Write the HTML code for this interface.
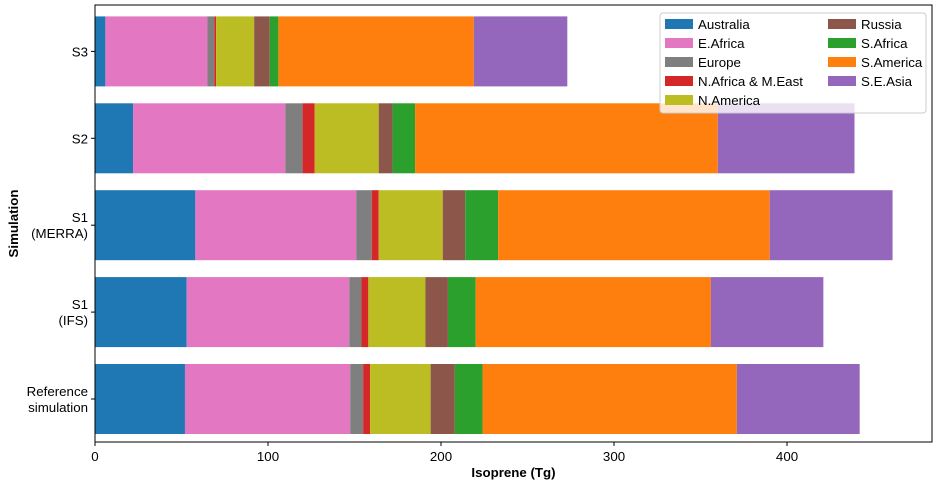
<!DOCTYPE html>
<html><head><meta charset="utf-8"><style>
body{margin:0;background:#fff;}
svg{display:block;font-family:"Liberation Sans",sans-serif;}
</style></head><body>
<svg id="chart" width="941" height="488"></svg>
<script>
const categories=["Reference\nsimulation","S1\n(IFS)","S1\n(MERRA)","S2","S3"];
const regions=["Australia","E.Africa","Europe","N.Africa & M.East","N.America","Russia","S.Africa","S.America","S.E.Asia"];
const colors=["#1f77b4","#e377c2","#7f7f7f","#d62728","#bcbd22","#8c564b","#2ca02c","#ff7f0e","#9467bd"];
const valsRef=[52,95.5,7.5,4,35,14,16,147,71];
const valsIFS=[53,94,7,4,33,13,16,136,65];
const valsMERRA=[58,93,9,4,37,13,19,157,71];
const valsS2=[22,88,10,7,37,8,13,175,79];
const valsS3=[6,59,4,1,22,9,5,113,54];
const series=[valsRef,valsIFS,valsMERRA,valsS2,valsS3];
const xTicks=[0,100,200,300,400];

const NS="http://www.w3.org/2000/svg";
const svg=document.getElementById('chart');
const L=95,R=932,T=5,B=442,xmax=483.8;
const FS=13.3;
const x=v=>L+v*(R-L)/xmax;
const yc=i=>399-i*86.9;
const bh=70;
function mk(t,a,p){const e=document.createElementNS(NS,t);for(const k in a)e.setAttribute(k,a[k]);(p||svg).appendChild(e);return e;}

series.forEach((vals,i)=>{
  let acc=0;
  vals.forEach((v,j)=>{
    const r=mk('rect',{x:x(acc),y:yc(i)-bh/2,width:x(acc+v)-x(acc),height:bh,fill:colors[j]});
    
    
    acc+=v;
  });
  const lines=categories[i].split("\n");
  mk('line',{x1:L,x2:L-4,y1:yc(i),y2:yc(i),stroke:'#000'});
  lines.forEach((ln,k)=>{
    const t=mk('text',{x:L-7,y:yc(i)+5+(k-(lines.length-1)/2)*16,'text-anchor':'end','font-size':FS});
    t.textContent=ln;
    
    
  });
});
const frame=mk('rect',{x:L,y:T,width:R-L,height:B-T,fill:'none',stroke:'#000','stroke-width':1});


xTicks.forEach(v=>{
  mk('line',{x1:x(v),x2:x(v),y1:B,y2:B+4,stroke:'#000'});
  const t=mk('text',{x:x(v),y:B+19,'text-anchor':'middle','font-size':FS});
  t.textContent=v;
  
  
});
const xt=mk('text',{x:(L+R)/2,y:477,'text-anchor':'middle','font-size':FS,'font-weight':'bold'});
xt.textContent="Isoprene (Tg)";


const yt=mk('text',{x:18,y:(T+B)/2,'text-anchor':'middle','font-size':FS,'font-weight':'bold',transform:'rotate(-90 18 '+(T+B)/2+')'});
yt.textContent="Simulation";



const lg=mk('g',{});


mk('rect',{x:660,y:13,width:266,height:100,fill:'#fff','fill-opacity':0.8,stroke:'#ccc',rx:3},lg);
regions.forEach((r,j)=>{
  const col=j<5?0:1,row=j<5?j:j-5;
  const sx=col?828:665, sy=19+row*19;
  const g=mk('g',{},lg);
  
  
  mk('rect',{x:sx,y:sy,width:28,height:10,fill:colors[j]},g);
  const t=mk('text',{x:sx+33,y:sy+10,'font-size':FS},g);
  t.textContent=r;
});
</script>
</body></html>
